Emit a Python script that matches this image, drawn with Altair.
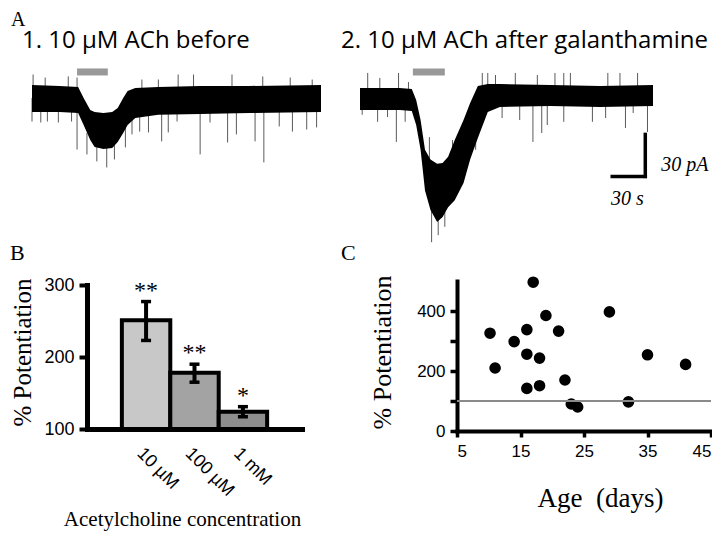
import altair as alt
import pandas as pd


def px(v):
    # page pixel -> canvas pixel (page has an 8px margin)
    return v - 8


# ---------------- Panel A: current traces (time in s, current in pA) ----------------
t1_time = [0, 25, 42, 47, 53, 57, 65, 73, 78, 83, 87, 94, 115, 153, 198, 263]
t1_hi = [9.3, 8.6, 7.9, 0, -8.6, -10, -10.7, -10, -7.1, 0, 5, 7.1, 7.9, 8.6, 8.6, 9.3]
t1_lo = [-10, -10, -10.7, -19.3, -30, -35, -36.4, -35.7, -31.4, -25, -19.3, -14.3, -12, -11.4, -10.7, -10]

spike1_t = [0, 8, 14, 24, 36, 41, 91, 98, 106, 118, 124, 132, 153, 162, 178, 186, 203, 211, 225, 237, 250, 259,
            50, 59, 68, 75, 85,
            1, 12, 33, 41, 100, 115, 133, 147, 182, 210, 235, 255]
spike1_base = [0, 0, 0, 0, 0, 0, 0, 0, 0, 0, 0, 0, 0, 0, 0, 0, 0, 0, 0, 0, 0, 0,
               -25, -25, -25, -25, -12,
               0, 0, 0, 0, 0, 0, 0, 0, 0, 0, 0, 0]
spike1_tip = [-16.8, -17.5, -16.8, -17.5, -16.8, -36.8, -26, -24, -24.6, -31, -24.6, -16.8, -40.3, -17.5, -31.8,
              -26, -31, -46, -20.3, -24, -22.5, -21,
              -40.3, -45.3, -49.6, -43.9, -35.3,
              16.8, 14.6, 15.4, 14.6, 13.2, 13.2, 16.8, 16.8, 16.8, 15.4, 14.6, 13.2]

t2_time = [0, 36, 47, 51, 55, 59, 64, 70, 75, 80, 86, 94, 100, 107, 116, 127, 173, 218, 266]
t2_hi = [7.1, 7.1, 6.4, -1.4, -15.7, -37, -44, -47, -46.4, -42, -30, -15.7, -3.6, 8.6, 10, 10, 9.3, 8.6, 9.3]
t2_lo = [-8.6, -8.6, -9.3, -19.3, -37, -66, -80, -88.6, -85, -78, -73, -60.7, -44, -28.6, -10, -6.4, -5.7, -6.4, -5.7]

spike2_t = [2, 16, 25, 33, 41, 129, 145, 157, 165, 170, 185, 211, 223, 241, 248, 261,
            65, 71, 77, 95, 105,
            7, 18, 35, 44, 111, 116, 123, 141, 161, 177, 185, 191, 225, 236, 252,
            63, 84]
spike2_base = [0, 0, 0, 0, 0, 0, 0, 0, 0, 0, 0, 0, 0, 0, 0, 0,
               -60, -60, -60, -35, -15,
               0, 0, 0, 0, 0, 0, 0, 0, 0, 0, 0, 0, 0, 0, 0,
               -45, -45]
spike2_tip = [-12, -17, -13.6, -31.4, -17, -14.3, -15.7, -31.4, -25, -19.3, -17, -17, -14.3, -21.4, -10.7, -24.3,
              -103, -98, -92, -55, -37,
              17.9, 14.3, 17.9, 11.4, 17.9, 17.9, 16.4, 17.9, 16.4, 17.9, 17.9, 17.9, 17.9, 17.9, 17.9,
              -27.9, -30]

stim_on = [41, 48]
stim_off = [69, 77]
stim_level = [18.6, 18.6]

scalebar_end_t = 259
scalebar_bottom = -56
scalebar_s = 30
scalebar_pA = 30

panel_titles = ["1. 10 µM ACh before", "2. 10 µM ACh after galanthamine"]
panel_letters = ["A", "B", "C"]

# ---------------- Panel B ----------------
conc = ["10 µM", "100 µM", "1 mM"]
pot_mean = [251, 178, 124]
pot_hi = [277, 190, 131]
pot_lo = [223, 165, 117]
stars = ["**", "**", "*"]

# ---------------- Panel C ----------------
age = [10.2, 11, 14, 16, 16, 16, 17, 19, 18, 18, 21, 22, 23, 24, 29, 32, 35, 41]
potentiation = [326, 210, 298, 338, 256, 142, 496, 385, 243, 151, 333, 170, 90, 80, 397, 97, 254, 222]
baseline_level = [100]

SANS = "Liberation Sans"
SERIF = "Liberation Serif"

# ---------------- build panel A ----------------
trace_y = alt.Scale(domain=[-110, 30], range=[px(252), px(56)], nice=False, zero=False)


def trace_panel(times, hi, lo, st, sb, stp, on, off, lvl, xscale, extra=None):
    env = pd.DataFrame({"t": times, "hi": hi, "lo": lo})
    spk = pd.DataFrame({"t": st, "base": sb, "tip": stp})
    stim = pd.DataFrame({"on": [on], "off": [off], "lvl": [lvl]})
    spikes = alt.Chart(spk).mark_rule(color="#5a5a5a", strokeWidth=1).encode(
        x=alt.X("t:Q", scale=xscale, axis=None),
        y=alt.Y("base:Q", scale=trace_y, axis=None),
        y2="tip:Q",
    )
    area = alt.Chart(env).mark_area(color="black", opacity=1).encode(
        x=alt.X("t:Q", scale=xscale, axis=None),
        y=alt.Y("hi:Q", scale=trace_y, axis=None),
        y2="lo:Q",
    )
    bar = alt.Chart(stim).mark_rule(color="#999999", strokeWidth=7).encode(
        x=alt.X("on:Q", scale=xscale, axis=None),
        x2="off:Q",
        y=alt.Y("lvl:Q", scale=trace_y, axis=None),
    )
    layers = [spikes, area, bar]
    if extra:
        layers += extra
    return alt.layer(*layers)


x1 = alt.Scale(domain=[0, 263], range=[px(32), px(321)], nice=False, zero=False)
x2 = alt.Scale(domain=[0, 266], range=[px(360), px(653)], nice=False, zero=False)

sb_df = pd.DataFrame({
    "t_end": [scalebar_end_t],
    "t_start": [scalebar_end_t - scalebar_s],
    "bottom": [scalebar_bottom],
    "top": [scalebar_bottom + scalebar_pA],
})
sb_v = alt.Chart(sb_df).mark_rule(color="black", strokeWidth=3.5, strokeCap="square").encode(
    x=alt.X("t_end:Q", scale=x2, axis=None),
    y=alt.Y("bottom:Q", scale=trace_y, axis=None),
    y2="top:Q",
)
sb_h = alt.Chart(sb_df).mark_rule(color="black", strokeWidth=3.5, strokeCap="square").encode(
    x=alt.X("t_start:Q", scale=x2, axis=None),
    x2="t_end:Q",
    y=alt.Y("bottom:Q", scale=trace_y, axis=None),
)
sb_lab_pa = alt.Chart(sb_df.assign(lab=f"{scalebar_pA} pA")).mark_text(
    font=SERIF, fontSize=20, fontStyle="italic", align="left", baseline="middle", dx=16, dy=-11, color="black"
).encode(
    x=alt.X("t_end:Q", scale=x2, axis=None),
    y=alt.Y("bottom:Q", scale=trace_y, axis=None),
    text="lab:N",
)
sb_lab_s = alt.Chart(sb_df.assign(lab=f"{scalebar_s} s")).mark_text(
    font=SERIF, fontSize=20, fontStyle="italic", align="center", baseline="middle", dx=-18, dy=23, color="black"
).encode(
    x=alt.X("t_end:Q", scale=x2, axis=None),
    y=alt.Y("bottom:Q", scale=trace_y, axis=None),
    text="lab:N",
)

traceA1 = trace_panel(t1_time, t1_hi, t1_lo, spike1_t, spike1_base, spike1_tip,
                      stim_on[0], stim_off[0], stim_level[0], x1)
traceA2 = trace_panel(t2_time, t2_hi, t2_lo, spike2_t, spike2_base, spike2_tip,
                      stim_on[1], stim_off[1], stim_level[1], x2,
                      extra=[sb_v, sb_h, sb_lab_pa, sb_lab_s])

# ---------------- build panel B ----------------
dfB = pd.DataFrame({"conc": conc, "mean": pot_mean, "hi": pot_hi, "lo": pot_lo, "star": stars})
b_x = alt.Scale(domain=conc, range=[px(87), px(302)], paddingInner=0, paddingOuter=0.72)
b_y = alt.Scale(domain=[100, 300], range=[px(429), px(285)], nice=False, zero=False)
b_xaxis = alt.Axis(
    orient="bottom", offset=-(524 - px(429)), ticks=False, domainWidth=5, domainCap="square",
    labelAngle=45, labelFont=SANS, labelFontSize=18, labelPadding=15, labelColor="black",
    title="Acetylcholine concentration", titleFont=SERIF, titleFontSize=21, titleFontWeight="normal",
    titleX=px(182), titleY=519 - 429, titleBaseline="middle", titleAlign="center",
)
b_yaxis = alt.Axis(
    orient="left", offset=-px(87), values=[100, 200, 300], tickSize=8, tickWidth=4,
    domainWidth=5, domainCap="square", labelFont=SANS, labelFontSize=18, labelPadding=5,
    title="% Potentiation", titleFont=SERIF, titleFontSize=25, titleFontWeight="normal",
    titleAngle=-90, titleX=22 - 87, titleY=px(352), titleBaseline="middle", titleAlign="center",
)


def bx():
    return alt.X("conc:N", scale=b_x, sort=conc, axis=b_xaxis)


b_bars = alt.Chart(dfB).mark_bar(stroke="black", strokeWidth=4, opacity=1).encode(
    x=bx(),
    y=alt.Y("mean:Q", scale=b_y, axis=b_yaxis),
    y2=alt.datum(100),
    color=alt.Color("conc:N", scale=alt.Scale(domain=conc, range=["#c8c8c8", "#a3a3a3", "#8e8e8e"]), legend=None),
)
b_err = alt.Chart(dfB).mark_rule(color="black", strokeWidth=4).encode(
    x=bx(),
    y=alt.Y("lo:Q", scale=b_y, axis=b_yaxis),
    y2="hi:Q",
)
b_cap_hi = alt.Chart(dfB).mark_tick(color="black", thickness=3.5, size=10, opacity=1).encode(
    x=bx(),
    y=alt.Y("hi:Q", scale=b_y, axis=b_yaxis),
)
b_cap_lo = alt.Chart(dfB).mark_tick(color="black", thickness=3.5, size=10, opacity=1).encode(
    x=bx(),
    y=alt.Y("lo:Q", scale=b_y, axis=b_yaxis),
)
b_star = alt.Chart(dfB).mark_text(font=SERIF, fontSize=24, baseline="alphabetic", dy=-4, color="black").encode(
    x=bx(),
    y=alt.Y("hi:Q", scale=b_y, axis=b_yaxis),
    text="star:N",
)
panelB = alt.layer(b_bars, b_err, b_cap_hi, b_cap_lo, b_star)

# ---------------- build panel C ----------------
dfC = pd.DataFrame({"age": age, "pot": potentiation})
c_x = alt.Scale(domain=[5, 45], range=[px(457), px(711)], nice=False, zero=False)
c_y = alt.Scale(domain=[0, 500], range=[px(431), px(281)], nice=False, zero=False)
c_xaxis = alt.Axis(
    orient="bottom", offset=-(524 - px(431)), values=[5, 15, 25, 35, 45], tickSize=6, tickWidth=3.5,
    domainWidth=4, domainCap="square", labelFont=SANS, labelFontSize=17, labelPadding=6,
    title="Age\u00a0 (days)", titleFont=SERIF, titleFontSize=27, titleFontWeight="normal",
    titleX=px(600), titleY=498 - 431, titleBaseline="middle", titleAlign="center",
)
c_yaxis = alt.Axis(
    orient="left", offset=-px(457), values=[0, 100, 200, 300, 400], tickSize=7, tickWidth=3.5,
    labelExpr="datum.value % 200 == 0 ? datum.label : ''",
    domainWidth=4, domainCap="square", labelFont=SANS, labelFontSize=17, labelPadding=5,
    title="% Potentiation", titleFont=SERIF, titleFontSize=26, titleFontWeight="normal",
    titleAngle=-90, titleX=382 - 457, titleY=px(352), titleBaseline="middle", titleAlign="center",
)

c_ref = alt.Chart(pd.DataFrame({"lvl": baseline_level})).mark_rule(color="#8a8a8a", strokeWidth=2).encode(
    x=alt.datum(5, scale=c_x, axis=c_xaxis),
    x2=alt.datum(45),
    y=alt.Y("lvl:Q", scale=c_y, axis=c_yaxis),
)
c_pts = alt.Chart(dfC).mark_circle(size=135, color="black", opacity=1).encode(
    x=alt.X("age:Q", scale=c_x, axis=c_xaxis),
    y=alt.Y("pot:Q", scale=c_y, axis=c_yaxis),
)
panelC = alt.layer(c_pts, c_ref)


# ---------------- annotations ----------------
def note(s, x, y, font, size, align="left", baseline="alphabetic"):
    return alt.Chart(pd.DataFrame({"s": [s]})).mark_text(
        font=font, fontSize=size, align=align, baseline=baseline, color="black"
    ).encode(x=alt.value(x), y=alt.value(y), text="s:N")


notes = [
    note(panel_letters[0], px(11), px(26), SERIF, 20),
    note(panel_letters[1], px(10), px(260), SERIF, 22),
    note(panel_letters[2], px(341), px(260), SERIF, 22),
    note(panel_titles[0], px(22), px(48), "Open Sans", 24),
    note(panel_titles[1], px(341), px(48), "Open Sans", 24),
]

chart = alt.layer(traceA1, traceA2, panelB, panelC, *notes).resolve_scale(
    x="independent", y="independent", color="independent"
).properties(
    width=704, height=524, padding=0, autosize=alt.AutoSizeParams(type="none")
).configure_view(stroke=None).configure_axis(
    grid=False, domainColor="black", tickColor="black", labelColor="black", titleColor="black",
    domainWidth=4, tickWidth=3.5
)

chart.save("out.html", embed_options={"renderer": "svg", "actions": False})
